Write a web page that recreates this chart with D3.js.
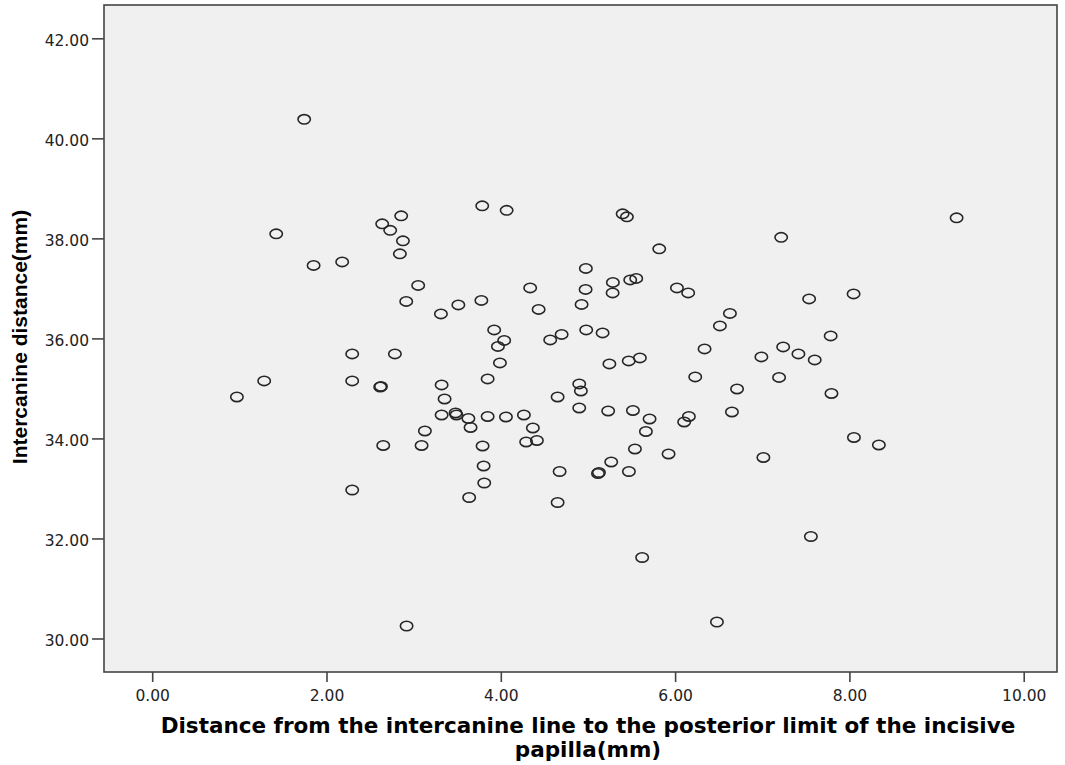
<!DOCTYPE html>
<html lang="en">
<head>
    <meta charset="UTF-8">
    <title>Intercanine scatter</title>
    <script src="https://d3js.org/d3.v7.min.js"></script>
<style>
    body { margin: 0; background: #fff; }
    .tick text { font-family: "DejaVu Sans", Verdana, sans-serif; font-size: 15.5px; fill: #222; }
    .axis-title { font-family: "DejaVu Sans", Verdana, sans-serif; font-weight: bold; font-size: 21.5px; fill: #000; }
    .y-title { font-family: "Liberation Sans", Arial, sans-serif; font-weight: bold; font-size: 21px; fill: #000; }
    .dot { fill: none; stroke: #262626; stroke-width: 1.6px; }
</style>
</head>
<body>
    <svg id="canvas" width="1065" height="765"></svg>

    <script>
        // distance from intercanine line to incisive papilla (mm)
        var papillaDist = [
            1.744, 1.423, 0.972, 1.285, 1.852, 2.180, 2.639, 2.731, 2.857, 2.877,
            2.842, 3.052, 2.915, 3.313, 3.513, 3.777, 3.787, 4.067, 3.924, 4.039,
            3.967, 3.990, 3.849, 4.337, 4.434, 4.567, 4.698, 4.652, 4.900, 4.919,
            4.900, 4.927, 4.976, 4.973, 4.980, 5.168, 5.246, 5.286, 5.283, 5.398,
            5.447, 5.485, 5.554, 5.468, 5.596, 5.232, 5.516, 5.707, 5.665, 5.539,
            5.267, 5.126, 5.115, 5.470, 5.818, 5.925, 6.021, 6.150, 6.158, 6.104,
            6.231, 6.338, 6.480, 6.514, 6.629, 6.652, 6.711, 6.990, 7.013, 7.217,
            7.193, 7.240, 7.415, 7.538, 7.602, 7.558, 7.785, 7.794, 8.048, 8.052,
            8.338, 9.230, 2.295, 2.785, 2.295, 2.616, 2.625, 2.651, 2.295, 2.919,
            3.129, 3.091, 3.321, 3.355, 3.321, 3.481, 3.491, 3.628, 3.653, 3.637,
            3.791, 3.803, 3.810, 3.849, 4.059, 4.265, 4.291, 4.368, 4.414, 4.675,
            4.652, 5.622
        ];

        // intercanine distance (mm)
        var intercanine = [
            40.38, 38.09, 34.83, 35.15, 37.46, 37.53, 38.29, 38.16, 38.45, 37.95,
            37.69, 37.06, 36.74, 36.49, 36.67, 36.76, 38.65, 38.56, 36.17, 35.96,
            35.84, 35.51, 35.19, 37.01, 36.58, 35.97, 36.08, 34.83, 35.09, 34.95,
            34.61, 36.68, 37.40, 36.98, 36.17, 36.11, 35.49, 37.12, 36.91, 38.49,
            38.43, 37.17, 37.20, 35.55, 35.61, 34.55, 34.56, 34.39, 34.14, 33.79,
            33.53, 33.32, 33.30, 33.34, 37.79, 33.69, 37.01, 36.91, 34.44, 34.33,
            35.23, 35.79, 30.33, 36.25, 36.50, 34.53, 34.99, 35.63, 33.62, 38.02,
            35.22, 35.83, 35.69, 36.79, 35.57, 32.04, 36.05, 34.90, 36.89, 34.02,
            33.87, 38.41, 35.69, 35.69, 35.15, 35.03, 35.04, 33.86, 32.97, 30.25,
            34.15, 33.86, 35.07, 34.79, 34.47, 34.51, 34.47, 34.40, 34.22, 32.82,
            33.85, 33.45, 33.11, 34.44, 34.43, 34.47, 33.93, 34.21, 33.96, 33.34,
            32.72, 31.62
        ];

        var xTicks = [0, 2, 4, 6, 8, 10];
        var yTicks = [30, 32, 34, 36, 38, 40, 42];

        var svg = d3.select('svg');

        var plotL = 104, plotR = 1057, plotT = 5, plotB = 672;

        var x = d3.scaleLinear()
            .domain([-0.553, 10.382])
            .range([plotL, plotR]);

        var y = d3.scaleLinear()
            .domain([29.33, 42.666])
            .range([plotB, plotT]);

        svg.append("rect")
            .attr("x", plotL)
            .attr("y", plotT)
            .attr("width", plotR - plotL)
            .attr("height", plotB - plotT)
            .attr("fill", "#f0f0f0")
            .attr("stroke", "#444")
            .attr("stroke-width", 1.6);

        var xAxis = svg.append("g")
            .attr("transform", "translate(0," + plotB + ")")
            .call(d3.axisBottom(x).tickValues(xTicks).tickFormat(d3.format(".2f")).tickSize(10).tickPadding(8));

        var yAxis = svg.append("g")
            .attr("transform", "translate(" + plotL + ",0)")
            .call(d3.axisLeft(y).tickValues(yTicks).tickFormat(d3.format(".2f")).tickSize(12).tickPadding(3));

        [xAxis, yAxis].forEach(function(a) {
            a.select(".domain").remove();
            a.selectAll(".tick line").attr("stroke", "#444").attr("stroke-width", 1.6);
        });
        yAxis.selectAll(".tick text").attr("dy", "0.45em");

        var points = papillaDist.map(function(d, i) { return {x: d, y: intercanine[i]}; });

        svg.append("g")
            .selectAll("ellipse")
            .data(points)
            .enter()
            .append("ellipse")
            .attr("class", "dot")
            .attr("cx", function(d) { return x(d.x); })
            .attr("cy", function(d) { return y(d.y); })
            .attr("rx", 6.2)
            .attr("ry", 4.7);

        var xTitle = svg.append("text")
            .attr("class", "axis-title")
            .attr("text-anchor", "middle")
            .attr("x", 588)
            .attr("y", 733);
        xTitle.append("tspan").attr("x", 588).text("Distance from the intercanine line to the posterior limit of the incisive");
        xTitle.append("tspan").attr("x", 588).attr("dy", 24).text("papilla(mm)");

        svg.append("text")
            .attr("class", "y-title")
            .attr("text-anchor", "middle")
            .attr("transform", "translate(27,337) rotate(-90)")
            .text("Intercanine distance(mm)");
    </script>
</body>
</html>
